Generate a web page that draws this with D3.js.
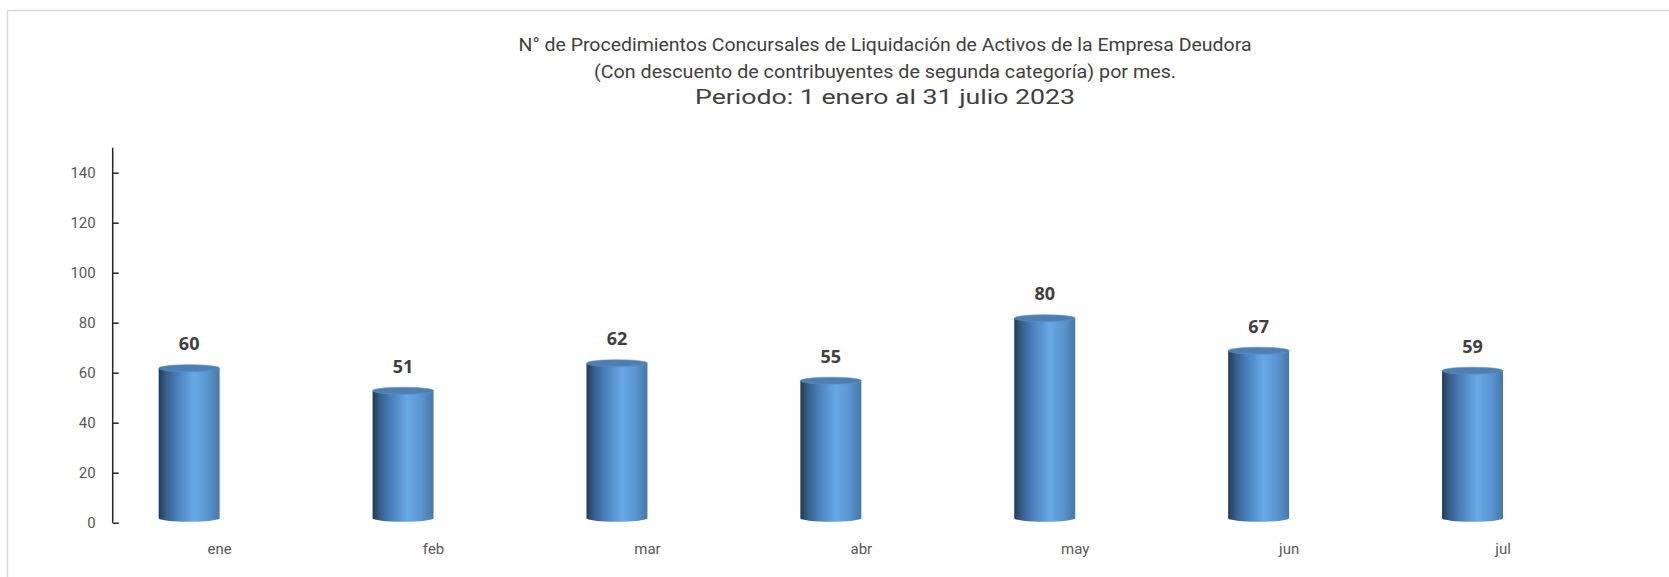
<!DOCTYPE html>
<html>
<head>
<meta charset="utf-8">
<script src="https://cdn.jsdelivr.net/npm/d3@7"></script>
<style>
  body { margin: 0; background: #fff; }
  svg { display: block; }
</style>
</head>
<body>
<script>
// data
var months = ["ene", "feb", "mar", "abr", "may", "jun", "jul"]
var counts = [60, 51, 62, 55, 80, 67, 59]
var yTicks = [0, 20, 40, 60, 80, 100, 120, 140]
var titleLines = [
  "N\u00b0 de Procedimientos Concursales de Liquidaci\u00f3n de Activos de la Empresa Deudora",
  "(Con descuento de contribuyentes de segunda categor\u00eda) por mes.",
  "Periodo: 1 enero al 31 julio 2023"
]
var titleWidths = [733, 582, 380]

var width = 1669, height = 577
var left = 112.7, right = 1610, y0 = 522.7, yTop = 147.7

var svg = d3.select("body").append("svg")
  .attr("width", width)
  .attr("height", height)

// chart frame (only top and left edges visible)
svg.append("path")
  .attr("d", "M7.5," + height + "V10.5H" + width)
  .attr("fill", "none")
  .attr("stroke", "#d9d9d9")
  .attr("stroke-width", 1.5)

// title
svg.append("g").selectAll("text")
  .data(titleLines)
  .enter()
  .append("text")
  .attr("x", 885)
  .attr("y", function(d, i) { return 51 + i * 26.5 })
  .attr("text-anchor", "middle")
  .attr("font-family", "Roboto, 'Open Sans', sans-serif")
  .attr("font-size", function(d, i) { return i == 2 ? 20.5 : 19 })
  .attr("fill", "#404040")
  .attr("textLength", function(d, i) { return titleWidths[i] })
  .attr("lengthAdjust", "spacingAndGlyphs")
  .text(function(d) { return d })

var x = d3.scaleBand()
  .domain(months)
  .range([left, right])

var y = d3.scaleLinear()
  .domain([0, 150])
  .range([y0, yTop])

// gradient for the cylinder body
var defs = svg.append("defs")
var grad = defs.append("linearGradient")
  .attr("id", "cyl")
  .attr("x1", "0%").attr("x2", "100%")
  .attr("y1", "0%").attr("y2", "0%")
var stops = [
  [0, "#223a55"], [0.12, "#365e89"], [0.3, "#4a80ba"],
  [0.58, "#68a8e6"], [0.8, "#5a95d0"], [1, "#4677aa"]
]
stops.forEach(function(s) {
  grad.append("stop").attr("offset", s[0]).attr("stop-color", s[1])
})

// y axis
var yAxis = d3.axisRight(y)
  .tickValues(yTicks)
  .tickSize(6)
  .tickFormat(d3.format("d"))

var ax = svg.append("g")
  .attr("transform", "translate(" + left + ",0)")
  .call(yAxis)

ax.select(".domain")
  .attr("d", "M0," + y0 + "V" + yTop)
  .attr("stroke", "#262626")
  .attr("stroke-width", 1.5)
ax.selectAll(".tick line")
  .attr("stroke", "#262626")
  .attr("stroke-width", 1.5)
ax.selectAll(".tick text")
  .attr("x", -17)
  .attr("text-anchor", "end")
  .attr("font-family", "Roboto, 'Open Sans', sans-serif")
  .attr("font-size", 15)
  .attr("fill", "#595959")

// cylinders
var bw = x.bandwidth() * 0.285
var shift = -30.5
var ry = 3.5
var lift = 4.5

var bars = svg.append("g").selectAll("g.bar")
  .data(counts)
  .enter()
  .append("g")
  .attr("class", "bar")
  .attr("transform", function(d, i) {
    return "translate(" + (x(months[i]) + x.bandwidth() / 2 + shift) + ",0)"
  })

bars.append("ellipse")
  .attr("cx", 0)
  .attr("cy", y(0) - lift)
  .attr("rx", bw / 2)
  .attr("ry", ry)
  .attr("fill", "url(#cyl)")

bars.append("rect")
  .attr("x", -bw / 2)
  .attr("width", bw)
  .attr("y", function(d) { return y(d) - lift })
  .attr("height", function(d) { return y(0) - y(d) })
  .attr("fill", "url(#cyl)")

bars.append("ellipse")
  .attr("cx", 0)
  .attr("cy", function(d) { return y(d) - lift })
  .attr("rx", bw / 2)
  .attr("ry", ry)
  .attr("fill", "#4d7fb3")
  .attr("stroke", "#5f93c8")
  .attr("stroke-width", 0.6)

bars.append("text")
  .attr("x", 0)
  .attr("y", function(d) { return y(d) - lift - 18 })
  .attr("text-anchor", "middle")
  .attr("font-family", "'Open Sans', Roboto, sans-serif")
  .attr("font-weight", "bold")
  .attr("font-size", 18)
  .attr("fill", "#404040")
  .text(function(d) { return d })

// category labels
var xAxis = d3.axisBottom(x).tickSize(0)
var xg = svg.append("g")
  .attr("transform", "translate(0," + 540 + ")")
  .call(xAxis)
xg.select(".domain").remove()
xg.selectAll("text")
  .attr("font-family", "Roboto, 'Open Sans', sans-serif")
  .attr("font-size", 15)
  .attr("fill", "#595959")
</script>
</body>
</html>
